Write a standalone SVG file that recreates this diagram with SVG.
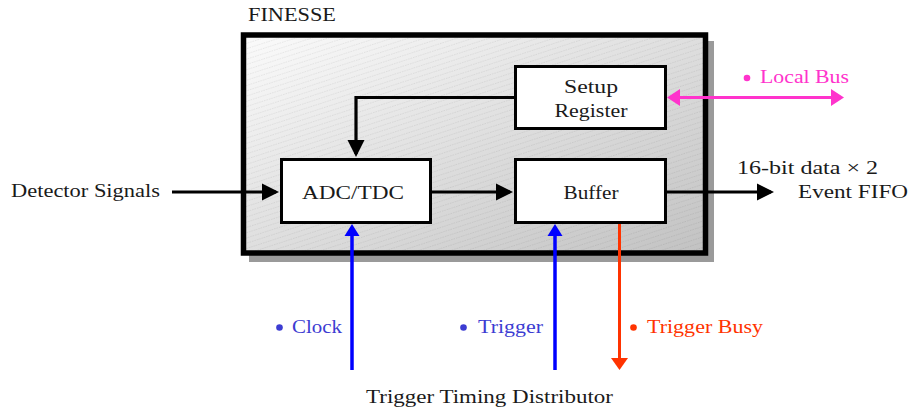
<svg xmlns="http://www.w3.org/2000/svg" width="911" height="413" viewBox="0 0 911 413">
<style>
text{font-family:"Liberation Serif","DejaVu Serif",serif;font-size:19px;fill:#1a1a1a}
.blk{fill:#fff;stroke:#000;stroke-width:3}
.ln{fill:none;stroke:#000;stroke-width:3.2}
.blue{fill:none;stroke:#0000ff;stroke-width:3.5}
.red{fill:none;stroke:#ff3300;stroke-width:3}
.pink{fill:none;stroke:#ff33cc;stroke-width:3}
.tb{fill:#3c3cd2}
.tr{fill:#ff3300}
.tp{fill:#ff33cc}
</style>
<defs>
<linearGradient id="g" x1="0" y1="0" x2="1" y2="1">
<stop offset="0" stop-color="#fbfbfb"/>
<stop offset="1" stop-color="#c2c2c2"/>
</linearGradient>
<pattern id="h" width="10" height="5" patternUnits="userSpaceOnUse" patternTransform="rotate(-18)">
<line x1="0" y1="2.5" x2="10" y2="2.5" stroke="#000" stroke-opacity="0.07" stroke-width="1" stroke-dasharray="1.5 1"/>
</pattern>
<marker id="ak" markerUnits="userSpaceOnUse" markerWidth="18" markerHeight="18" refX="14" refY="9" orient="auto-start-reverse" viewBox="0 0 18 18"><path d="M0,0.5 L17,9 L0,17.5 z" fill="#000"/></marker>
<marker id="ab" markerUnits="userSpaceOnUse" markerWidth="14" markerHeight="16" refX="9" refY="8" orient="auto" viewBox="0 0 14 16"><path d="M0,0.5 L12,8 L0,15.5 z" fill="#0000ff"/></marker>
<marker id="ar" markerUnits="userSpaceOnUse" markerWidth="14" markerHeight="18" refX="9" refY="9" orient="auto" viewBox="0 0 14 18"><path d="M0,0.5 L12,9 L0,17.5 z" fill="#ff3300"/></marker>
<marker id="ap" markerUnits="userSpaceOnUse" markerWidth="14" markerHeight="18" refX="10" refY="9" orient="auto-start-reverse" viewBox="0 0 14 18"><path d="M0,0.5 L13,9 L0,17.5 z" fill="#ff33cc"/></marker>
</defs>

<g id="finesse">
<rect x="249" y="41" width="465" height="221" fill="#9a9a9a"/>
<rect x="243.5" y="35" width="462" height="218" fill="url(#g)"/>
<rect x="243.5" y="35" width="462" height="218" fill="url(#h)"/>
<rect x="243.5" y="35" width="462" height="218" fill="none" stroke="#000" stroke-width="5.5"/>
<text x="248" y="21" textLength="88" lengthAdjust="spacingAndGlyphs">FINESSE</text>
</g>

<g id="setup">
<rect class="blk" x="515.5" y="66.5" width="150" height="62"/>
<text x="591" y="93" text-anchor="middle" textLength="54" lengthAdjust="spacingAndGlyphs">Setup</text>
<text x="591" y="117" text-anchor="middle" textLength="73" lengthAdjust="spacingAndGlyphs">Register</text>
</g>

<g id="adc">
<rect class="blk" x="281.5" y="159.5" width="149" height="63"/>
<text x="353" y="199" text-anchor="middle" textLength="102" lengthAdjust="spacingAndGlyphs">ADC/TDC</text>
</g>

<g id="buffer">
<rect class="blk" x="515.5" y="159.5" width="150" height="63"/>
<text x="591" y="199" text-anchor="middle" textLength="55" lengthAdjust="spacingAndGlyphs">Buffer</text>
</g>

<g id="labels">
<text x="11" y="197" textLength="149" lengthAdjust="spacingAndGlyphs">Detector Signals</text>
<text x="737" y="174" textLength="141" lengthAdjust="spacingAndGlyphs">16-bit data × 2</text>
<text x="798" y="198" textLength="110" lengthAdjust="spacingAndGlyphs">Event FIFO</text>
<circle cx="747" cy="78" r="3.3" fill="#ff33cc"/>
<text class="tp" x="760" y="83" textLength="89" lengthAdjust="spacingAndGlyphs">Local Bus</text>
<circle cx="279.5" cy="327.5" r="3.3" fill="#3c3cd2"/>
<text class="tb" x="292" y="333" textLength="50" lengthAdjust="spacingAndGlyphs">Clock</text>
<circle cx="463.5" cy="327.5" r="3.3" fill="#3c3cd2"/>
<text class="tb" x="478" y="333" textLength="65" lengthAdjust="spacingAndGlyphs">Trigger</text>
<circle cx="633.5" cy="327.5" r="3.3" fill="#ff3300"/>
<text class="tr" x="647" y="333" textLength="116" lengthAdjust="spacingAndGlyphs">Trigger Busy</text>
<text x="366" y="403" textLength="247" lengthAdjust="spacingAndGlyphs">Trigger Timing Distributor</text>
</g>

<g id="connectors">
<line class="ln" x1="172" y1="192" x2="276" y2="192" marker-end="url(#ak)"/>
<line class="ln" x1="432" y1="192" x2="510" y2="192" marker-end="url(#ak)"/>
<line class="ln" x1="667" y1="192" x2="771" y2="192" marker-end="url(#ak)"/>
<polyline class="ln" points="515,97.5 356,97.5 356,154" marker-end="url(#ak)"/>
<line class="pink" x1="670" y1="97.5" x2="841" y2="97.5" marker-start="url(#ap)" marker-end="url(#ap)"/>
<line class="blue" x1="352" y1="370" x2="352" y2="227" marker-end="url(#ab)"/>
<line class="blue" x1="555" y1="370" x2="555" y2="227" marker-end="url(#ab)"/>
<line class="red" x1="619.5" y1="224" x2="619.5" y2="367" marker-end="url(#ar)"/>
</g>
</svg>
